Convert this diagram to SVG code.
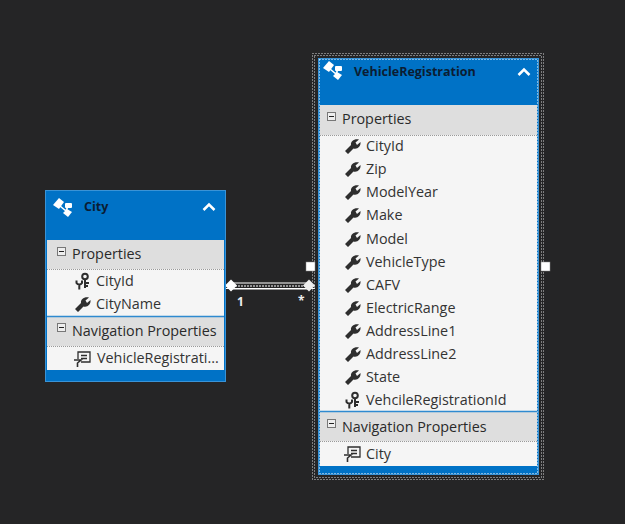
<svg xmlns="http://www.w3.org/2000/svg" xmlns:xlink="http://www.w3.org/1999/xlink" width="625" height="524" viewBox="0 0 625 524">
<style>
text{font-family:"Open Sans","Noto Sans","Liberation Sans",sans-serif}
.t{font-size:14.35px;fill:#333}
.h{font-size:14.35px;fill:#2a2a2a}
.title{font-size:12.5px;font-weight:700;fill:#0b1d33}
.blue{fill:#0072c6}
.sec{fill:#dedede}
.item{fill:#f5f5f5}
.dash{stroke:#9a9a9a;stroke-width:1;stroke-dasharray:1 1;fill:none}
.ln{stroke:#2f8ad0;stroke-width:1.5}
.sel{fill:none;stroke:#d8d8d8;stroke-width:1;stroke-dasharray:1 2}
.sel2{fill:none;stroke:#fff;stroke-width:1;stroke-dasharray:1 2}
.handle{fill:#fff;stroke:#888;stroke-width:.5}
.mult{font-size:12px;font-weight:700;fill:#eee}
</style>
<defs>
<g id="entity" fill="#fff">
<path d="M0 7 L6 0 L11 4 L6 11Z"/><path d="M10 15 L14 11 L19 14 L15 19Z"/><rect x="12" y="5" width="7" height="5" rx="1"/><path d="M7 8 L13 13 M15 8 L13 13" stroke="#fff" stroke-width="1.600"/>
</g>
<path id="chev" d="M0 6 L5.500 0.500 L11 6" fill="none" stroke="#fff" stroke-width="2.500"/>
<g id="wrench"><path d="M0 12 L6 6 C5.500 2.500 9 -0.500 14 0.500 L10.500 3.500 L12 6 L15.500 3 C16 7.500 12.500 10.500 8.500 9.500 L3 15 Z" fill="#2e2e2e"/></g>
<g id="key" fill="none" stroke="#2e2e2e" stroke-width="2"><circle cx="10" cy="3.500" r="2.800"/><path d="M10 6 V15 M10 10 H14 M10 13 H13"/><path d="M1.500 7.500 V10 A3.200 3.200 0 0 0 7 10 V7.500 M4.300 12 V16.500"/></g>
<g id="nav" fill="none" stroke="#2e2e2e" stroke-width="1.300"><path d="M5 9 V2 H17 V12 H8"/><path d="M8 5.500 H14 M8 8.500 H14"/><path d="M1 10 H8 L4.500 13 V17" stroke-width="1.600"/></g>
<g id="minus"><rect x=".5" y=".5" width="8" height="8" fill="#eee" stroke="#777"/><path d="M2 4.500 H7" stroke="#222"/></g>
</defs>
<rect width="625" height="524" fill="#252526"/>
<g id="connectors">
<path d="M231 283 H309 M231 289 H309" stroke="#b8b8b8" stroke-width="1.500" fill="none"/>
<path d="M226 286 H316" stroke="#fff" stroke-width="1" stroke-dasharray="2 1" fill="none"/>
<path d="M226 288.500 H315" stroke="#fff" stroke-width="1" fill="none"/>
<path d="M231 279.500 L237 285.500 L231 291.500 L225 285.500Z" fill="#fff"/>
<path d="M309 279.500 L315 285.500 L309 291.500 L303 285.500Z" fill="#eee"/>
<text class="mult" x="237" y="306">1</text>
<text class="mult" x="298" y="305">*</text>
</g>
<g id="city">
<rect x="45" y="190" width="181" height="192" class="blue"/>
<rect x="45.500" y="190.500" width="180" height="191" fill="none" stroke="#3a93d6"/>
<rect x="47" y="240" width="177" height="29" class="sec"/>
<rect x="47" y="269" width="177" height="47" class="item"/>
<rect x="47" y="317" width="177" height="29" class="sec"/>
<rect x="47" y="346" width="177" height="24" class="item"/>
<path d="M47 269.500 H224 M47 346.500 H224" class="dash"/>
<path d="M47 316.500 H224" class="ln"/>
<use xlink:href="#entity" href="#entity" x="53" y="198"/>
<text class="title" x="84" y="211">City</text>
<use xlink:href="#chev" href="#chev" x="203.500" y="204"/>
<use xlink:href="#minus" href="#minus" x="57" y="247"/>
<text class="h" x="72" y="259">Properties</text>
<use xlink:href="#key" href="#key" x="75" y="273"/>
<text class="t" x="96" y="286">CityId</text>
<use xlink:href="#wrench" href="#wrench" x="75" y="297"/>
<text class="t" x="96" y="309">CityName</text>
<use xlink:href="#minus" href="#minus" x="57" y="323"/>
<text class="h" x="72" y="336">Navigation Properties</text>
<use xlink:href="#nav" href="#nav" x="73" y="350"/>
<text class="t" x="97" y="363">VehicleRegistrati...</text>
</g>
<g id="vehicle-registration">
<rect x="312.500" y="53.500" width="231" height="426" class="sel"/>
<rect x="314.500" y="55.500" width="227" height="422" class="sel"/>
<rect x="318" y="58" width="221" height="417" class="blue"/>
<rect x="318.500" y="58.500" width="220" height="416" fill="none" stroke="#3a93d6"/>
<rect x="320" y="105" width="217" height="30" class="sec"/>
<rect x="320" y="135" width="217" height="276" class="item"/>
<rect x="320" y="412" width="217" height="29" class="sec"/>
<rect x="320" y="441" width="217" height="25" class="item"/>
<path d="M320 135.500 H537 M320 441.500 H537" class="dash"/>
<path d="M320 411.500 H537" class="ln"/>
<rect x="319.500" y="59.500" width="218" height="414" class="sel2"/>
<use xlink:href="#entity" href="#entity" x="323" y="61"/>
<text class="title" x="354" y="76">VehicleRegistration</text>
<use xlink:href="#chev" href="#chev" x="518.500" y="69"/>
<use xlink:href="#minus" href="#minus" x="327" y="112"/>
<text class="h" x="342" y="124">Properties</text>
<g id="vr-props">
<use xlink:href="#wrench" href="#wrench" x="345" y="139"/><text class="t" x="366" y="151">CityId</text>
<use xlink:href="#wrench" href="#wrench" x="345" y="162"/><text class="t" x="366" y="174">Zip</text>
<use xlink:href="#wrench" href="#wrench" x="345" y="185"/><text class="t" x="366" y="197">ModelYear</text>
<use xlink:href="#wrench" href="#wrench" x="345" y="208"/><text class="t" x="366" y="220">Make</text>
<use xlink:href="#wrench" href="#wrench" x="345" y="232"/><text class="t" x="366" y="244">Model</text>
<use xlink:href="#wrench" href="#wrench" x="345" y="255"/><text class="t" x="366" y="267">VehicleType</text>
<use xlink:href="#wrench" href="#wrench" x="345" y="278"/><text class="t" x="366" y="290">CAFV</text>
<use xlink:href="#wrench" href="#wrench" x="345" y="301"/><text class="t" x="366" y="313">ElectricRange</text>
<use xlink:href="#wrench" href="#wrench" x="345" y="324"/><text class="t" x="366" y="336">AddressLine1</text>
<use xlink:href="#wrench" href="#wrench" x="345" y="347"/><text class="t" x="366" y="359">AddressLine2</text>
<use xlink:href="#wrench" href="#wrench" x="345" y="370"/><text class="t" x="366" y="382">State</text>
<use xlink:href="#key" href="#key" x="345" y="392"/><text class="t" x="366" y="405">VehcileRegistrationId</text>
</g>
<use xlink:href="#minus" href="#minus" x="327" y="419"/>
<text class="h" x="342" y="432">Navigation Properties</text>
<use xlink:href="#nav" href="#nav" x="343" y="445"/>
<text class="t" x="366" y="459">City</text>
<rect x="306" y="262" width="9" height="9" class="handle"/>
<rect x="541" y="262" width="9" height="9" class="handle"/>
</g>
</svg>
